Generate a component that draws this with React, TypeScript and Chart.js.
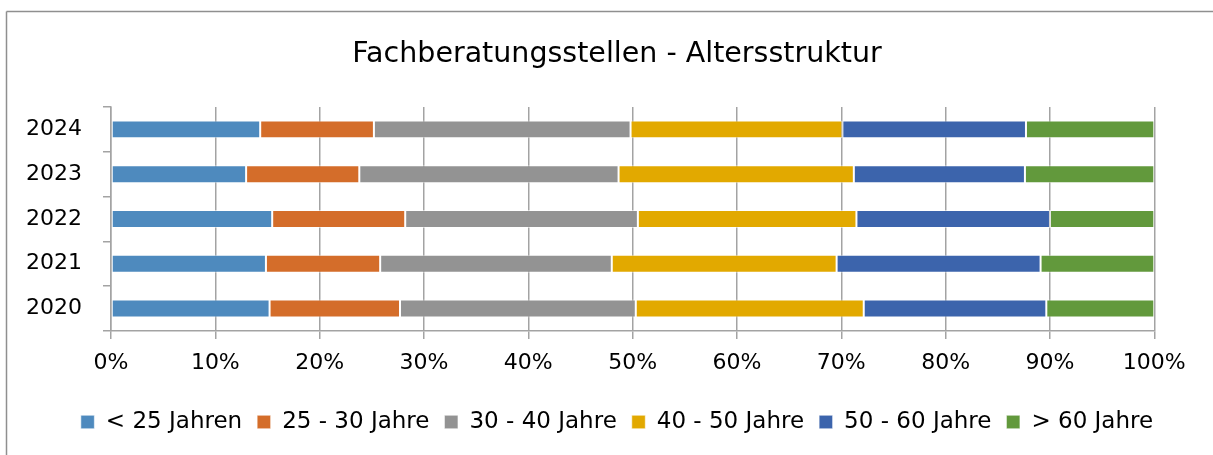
import React, { useEffect, useRef } from "react";
import { Chart, registerables } from "chart.js";

Chart.register(...registerables);

const years = ["2024", "2023", "2022", "2021", "2020"];
const seriesNames = ["< 25 Jahren", "25 - 30 Jahre", "30 - 40 Jahre", "40 - 50 Jahre", "50 - 60 Jahre", "> 60 Jahre"];
const under25 = [14.3, 12.95, 15.45, 14.85, 15.2];
const from25to30 = [10.9, 10.85, 12.75, 10.95, 12.5];
const from30to40 = [24.6, 24.85, 22.3, 22.2, 22.6];
const from40to50 = [20.3, 22.55, 20.95, 21.55, 21.85];
const from50to60 = [17.6, 16.4, 18.55, 19.55, 17.5];
const over60 = [12.3, 12.4, 10.0, 10.9, 10.35];
const xTicks = [0, 10, 20, 30, 40, 50, 60, 70, 80, 90, 100];
const colors = ["#4E8ABE", "#D46D2A", "#939393", "#E2A900", "#3C64AC", "#62993C"];

const FONT = "DejaVu Sans";

const borderPlugin = {
  id: "outerBorder",
  beforeDraw(chart: any) {
    const ctx = chart.ctx;
    ctx.save();
    ctx.fillStyle = "#ffffff";
    ctx.fillRect(0, 0, chart.width, chart.height);
    ctx.strokeStyle = "#8f8f8f";
    ctx.lineWidth = 1.5;
    ctx.beginPath();
    ctx.moveTo(6.5, 11.5);
    ctx.lineTo(6.5, chart.height);
    ctx.stroke();
    ctx.beginPath();
    ctx.moveTo(6.5, 11.5);
    ctx.lineTo(chart.width, 11.5);
    ctx.stroke();
    ctx.restore();
  },
  afterLayout(chart: any) {
    // let the category labels use the space to the left of the axis box
    if (chart.scales.y) chart.scales.y.left = 0;
  },
};

export default function App() {
  const ref = useRef<HTMLCanvasElement | null>(null);
  useEffect(() => {
    if (!ref.current) return;
    const all = [under25, from25to30, from30to40, from40to50, from50to60, over60];
    const chart = new Chart(ref.current, {
      type: "bar",
      data: {
        labels: years,
        datasets: all.map((d, i) => ({
          label: seriesNames[i],
          data: d,
          backgroundColor: colors[i],
          borderColor: "rgba(255,255,255,0.55)",
          borderWidth: 1,
          borderSkipped: false,
          categoryPercentage: 1,
          barPercentage: 0.4,
        })),
      },
      options: {
        indexAxis: "y",
        animation: false,
        responsive: false,
        maintainAspectRatio: false,
        layout: { padding: { left: 60.7, right: 39.7, top: 0, bottom: 11.5 } },
        scales: {
          x: {
            stacked: true,
            min: 0,
            max: 100,
            afterBuildTicks: (scale: any) => {
              scale.ticks = xTicks.map((v) => ({ value: v }));
            },
            afterFit: (scale: any) => {
              scale.height = 64.6;
            },
            grid: { color: "#a3a3a3", lineWidth: 1.5, tickLength: 8 },
            border: { display: true, color: "#a3a3a3", width: 1.5 },
            ticks: {
              color: "#000000",
              padding: 11,
              font: { family: FONT, size: 22 },
              callback: (v: any) => `${v}%`,
            },
          },
          y: {
            stacked: true,
            afterFit: (scale: any) => {
              scale.width = 50.3;
            },
            grid: { drawOnChartArea: false, offset: true, color: "#a3a3a3", lineWidth: 1.5, tickLength: 8 },
            border: { display: true, color: "#a3a3a3", width: 1.5 },
            ticks: { color: "#000000", padding: 21, font: { family: FONT, size: 22 } },
          },
          yRight: {
            type: "linear",
            axis: "y",
            position: "right",
            display: true,
            grid: { display: false, drawTicks: false },
            border: { display: false },
            ticks: { display: false },
            afterFit: (scale: any) => {
              scale.width = 19;
            },
          },
        },
        plugins: {
          title: {
            display: true,
            text: "Fachberatungsstellen - Altersstruktur",
            color: "#000000",
            font: { family: FONT, size: 28.5, weight: "normal" },
            padding: { top: 37.2, bottom: 35.6 },
          },
          legend: {
            position: "bottom",
            labels: {
              color: "#000000",
              boxWidth: 13.5,
              boxHeight: 13.5,
              padding: 15,
              font: { family: FONT, size: 23 },
            },
          },
          tooltip: { enabled: false },
        },
      },
      plugins: [borderPlugin],
    });
    return () => chart.destroy();
  }, []);
  return (
    <div style={{ position: "fixed", left: 0, top: 0, width: 1213, height: 455, background: "#fff" }}>
      <canvas ref={ref} width={1213} height={455} style={{ display: "block" }} />
    </div>
  );
}
